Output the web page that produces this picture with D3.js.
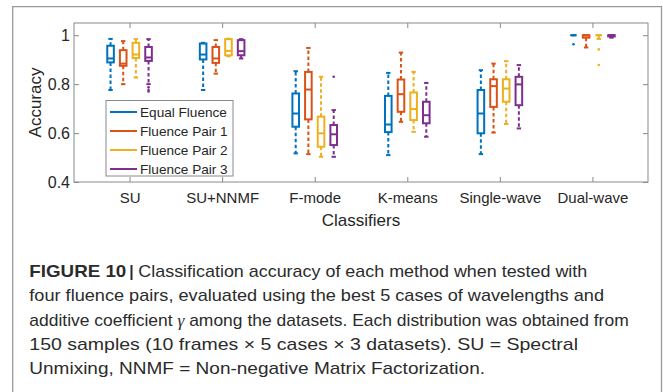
<!DOCTYPE html>
<html>
<head>
<meta charset="utf-8">
<script src="https://cdn.jsdelivr.net/npm/d3@7"></script>
<style>
  body { margin: 0; background: #fff; }
  svg { display: block; }
</style>
</head>
<body>
<div id="chart"></div>
<script>
// categories on the x axis and the four fluence groups
const classifiers = ['SU', 'SU+NNMF', 'F-mode', 'K-means', 'Single-wave', 'Dual-wave']
const series = ['Equal Fluence', 'Fluence Pair 1', 'Fluence Pair 2', 'Fluence Pair 3']
const colors = ['#0072BD', '#D95319', '#EDB120', '#7E2F8E']

// each row: [lower whisker, q1, median, q3, upper whisker], one row per classifier
const equalFluence = [
  [0.776, 0.889, 0.905, 0.957, 0.985],
  [0.776, 0.901, 0.921, 0.966, 0.969],
  [0.517, 0.626, 0.680, 0.762, 0.853],
  [0.510, 0.604, 0.635, 0.752, 0.846],
  [0.514, 0.599, 0.680, 0.776, 0.857],
  [1.000, 1.000, 1.000, 1.000, 1.000]
]
const fluencePair1 = [
  [0.800, 0.875, 0.884, 0.939, 0.976],
  [0.843, 0.887, 0.905, 0.952, 0.980],
  [0.514, 0.656, 0.778, 0.850, 0.948],
  [0.646, 0.687, 0.759, 0.819, 0.929],
  [0.602, 0.707, 0.792, 0.820, 0.884],
  [0.950, 0.990, 1.000, 1.000, 1.000]
]
const fluencePair2 = [
  [0.827, 0.907, 0.921, 0.969, 0.984],
  [0.914, 0.918, 0.936, 0.984, 0.986],
  [0.503, 0.544, 0.599, 0.667, 0.830],
  [0.605, 0.653, 0.698, 0.766, 0.850],
  [0.637, 0.728, 0.782, 0.820, 0.894],
  [0.985, 1.000, 1.000, 1.000, 1.000]
]
const fluencePair3 = [
  [0.800, 0.895, 0.909, 0.952, 0.984],
  [0.905, 0.918, 0.935, 0.980, 0.984],
  [0.503, 0.551, 0.595, 0.633, 0.694],
  [0.585, 0.640, 0.673, 0.728, 0.805],
  [0.619, 0.714, 0.799, 0.830, 0.878],
  [0.990, 0.995, 1.000, 1.000, 1.000]
]
// outliers: [classifier index, value]
const equalOutliers = [[5, 0.963]]
const pair1Outliers = []
const pair2Outliers = [[5, 0.942], [5, 0.878]]
const pair3Outliers = [[0, 0.787], [0, 0.776], [0, 0.770], [2, 0.830]]

const yTicks = [0.4, 0.6, 0.8, 1]

const captionLines = [
  'four fluence pairs, evaluated using the best 5 cases of wavelengths and',
  null, // line with the gamma symbol, built below
  '150 samples (10 frames \u00d7 5 cases \u00d7 3 datasets). SU = Spectral',
  'Unmixing, NNMF = Non-negative Matrix Factorization.'
]

const boxes = [equalFluence, fluencePair1, fluencePair2, fluencePair3]
const outliers = [equalOutliers, pair1Outliers, pair2Outliers, pair3Outliers]

////////////////////////////////////////////////////////////////////////
// layout
const width = 663
const height = 392
const plot = { left: 74, right: 648, top: 23, bottom: 182 }
const axisGray = '#8a8a8a'
const textColor = '#262626'
const font = "'Liberation Sans', Arial, sans-serif"

const svg = d3.select('#chart')
  .append('svg')
  .attr('width', width)
  .attr('height', height)

// figure frame (open at the bottom)
svg.append('path')
  .attr('d', `M12.7,400 V6.7 H661.5 V400`)
  .attr('fill', 'none')
  .attr('stroke', '#9a9a9a')
  .attr('stroke-width', 1.3)

let xScale = d3.scaleLinear().domain([0.4, 6.6]).range([plot.left, plot.right])
let yScale = d3.scaleLinear().domain([0.4, 1.05]).range([plot.bottom, plot.top])
let offset = d3.scalePoint().domain(series).range([-19, 19])

// axes with inward ticks on all four sides
function styleAxis (g) {
  g.select('.domain').remove()
  g.selectAll('.tick line').attr('stroke', axisGray).attr('stroke-width', 1)
  g.selectAll('.tick text').attr('fill', textColor)
  g.attr('font-family', font)
}

svg.append('g')
  .attr('transform', `translate(0,${plot.bottom})`)
  .call(d3.axisBottom(xScale).tickValues([1, 2, 3, 4, 5, 6])
    .tickSize(-5).tickPadding(10.5)
    .tickFormat(d => classifiers[d - 1]))
  .attr('font-size', 15)
  .call(styleAxis)

svg.append('g')
  .attr('transform', `translate(0,${plot.top})`)
  .call(d3.axisTop(xScale).tickValues([1, 2, 3, 4, 5, 6]).tickSize(-5).tickFormat(''))
  .call(styleAxis)

svg.append('g')
  .attr('transform', `translate(${plot.left},0)`)
  .call(d3.axisLeft(yScale).tickValues(yTicks).tickSize(-5).tickPadding(4)
    .tickFormat(d => d === 1 ? '1' : d.toFixed(1)))
  .attr('font-size', 16)
  .call(styleAxis)

svg.append('g')
  .attr('transform', `translate(${plot.right},0)`)
  .call(d3.axisRight(yScale).tickValues(yTicks).tickSize(-5).tickFormat(''))
  .call(styleAxis)

svg.append('rect')
  .attr('x', plot.left)
  .attr('y', plot.top)
  .attr('width', plot.right - plot.left)
  .attr('height', plot.bottom - plot.top)
  .attr('fill', 'none')
  .attr('stroke', axisGray)
  .attr('stroke-width', 1)

// axis titles
svg.append('text')
  .attr('x', (plot.left + plot.right) / 2)
  .attr('y', 225.5)
  .attr('text-anchor', 'middle')
  .attr('font-family', font)
  .attr('font-size', 17)
  .attr('fill', textColor)
  .text('Classifiers')

svg.append('text')
  .attr('transform', `translate(40.5,${(plot.top + plot.bottom) / 2}) rotate(-90)`)
  .attr('text-anchor', 'middle')
  .attr('font-family', font)
  .attr('font-size', 17)
  .attr('fill', textColor)
  .text('Accuracy')

////////////////////////////////////////////////////////////////////////
// box plots
const boxHalf = 3.3
const capHalf = 2.2

series.forEach((name, s) => {
  let g = svg.append('g').attr('class', 'series')
  let color = colors[s]
  let rows = boxes[s].map((d, i) => ({ i: i, d: d }))
  let cx = r => xScale(r.i + 1) + offset(name)

  // dashed whiskers
  g.selectAll('line.wlow')
    .data(rows)
    .enter()
    .append('line')
    .attr('x1', cx).attr('x2', cx)
    .attr('y1', r => yScale(r.d[1])).attr('y2', r => yScale(r.d[0]))
    .attr('stroke', color).attr('stroke-width', 2)
    .attr('stroke-dasharray', '3.5,2.5')
  g.selectAll('line.whigh')
    .data(rows)
    .enter()
    .append('line')
    .attr('x1', cx).attr('x2', cx)
    .attr('y1', r => yScale(r.d[3])).attr('y2', r => yScale(r.d[4]))
    .attr('stroke', color).attr('stroke-width', 2)
    .attr('stroke-dasharray', '3.5,2.5')

  // whisker caps
  ;[0, 4].forEach(k => {
    g.selectAll('line.cap' + k)
      .data(rows)
      .enter()
      .append('line')
      .attr('x1', r => cx(r) - capHalf).attr('x2', r => cx(r) + capHalf)
      .attr('y1', r => yScale(r.d[k])).attr('y2', r => yScale(r.d[k]))
      .attr('stroke', color).attr('stroke-width', 2)
  })

  // boxes
  g.selectAll('rect')
    .data(rows)
    .enter()
    .append('rect')
    .attr('x', r => cx(r) - boxHalf)
    .attr('y', r => yScale(r.d[3]))
    .attr('width', boxHalf * 2)
    .attr('height', r => yScale(r.d[1]) - yScale(r.d[3]))
    .attr('fill', 'none')
    .attr('stroke', color).attr('stroke-width', 2)

  // medians
  g.selectAll('line.median')
    .data(rows)
    .enter()
    .append('line')
    .attr('x1', r => cx(r) - boxHalf).attr('x2', r => cx(r) + boxHalf)
    .attr('y1', r => yScale(r.d[2])).attr('y2', r => yScale(r.d[2]))
    .attr('stroke', color).attr('stroke-width', 2)

  // outliers
  g.selectAll('circle')
    .data(outliers[s])
    .enter()
    .append('circle')
    .attr('cx', d => xScale(d[0] + 1) + offset(name))
    .attr('cy', d => yScale(d[1]))
    .attr('r', 1.3)
    .attr('fill', color)
})

////////////////////////////////////////////////////////////////////////
// legend
let legend = svg.append('g').attr('transform', 'translate(106,100.5)')
legend.append('rect')
  .attr('width', 127)
  .attr('height', 75.5)
  .attr('fill', '#fff')
  .attr('stroke', axisGray)
  .attr('stroke-width', 1)

let entries = legend.selectAll('g')
  .data(series)
  .enter()
  .append('g')
  .attr('transform', (d, i) => `translate(0,${11.5 + i * 19})`)
entries.append('line')
  .attr('x1', 4).attr('x2', 31)
  .attr('stroke', (d, i) => colors[i])
  .attr('stroke-width', 2)
entries.append('text')
  .attr('x', 34)
  .attr('y', 5)
  .attr('font-family', font)
  .attr('font-size', 13.6)
  .attr('fill', textColor)
  .text(d => d)

////////////////////////////////////////////////////////////////////////
// caption
const capColor = '#2b2b2b'
const capSize = 17
const baselines = [277, 301.3, 325.6, 349.9, 374.2]

svg.append('text')
  .attr('x', 29.3).attr('y', baselines[0])
  .attr('font-family', font).attr('font-size', capSize)
  .attr('font-weight', 'bold').attr('fill', capColor)
  .attr('textLength', 97).attr('lengthAdjust', 'spacingAndGlyphs')
  .text('FIGURE 10')
svg.append('rect')
  .attr('x', 130.5).attr('y', baselines[0] - 12)
  .attr('width', 2).attr('height', 15)
  .attr('fill', capColor)
svg.append('text')
  .attr('x', 138.3).attr('y', baselines[0])
  .attr('font-family', font).attr('font-size', capSize)
  .attr('fill', capColor)
  .attr('textLength', 449).attr('lengthAdjust', 'spacingAndGlyphs')
  .text('Classification accuracy of each method when tested with')

const lineEnds = [604, 628.7, 578, 485]
captionLines.forEach((t, i) => {
  let txt = svg.append('text')
    .attr('x', 29.3).attr('y', baselines[i + 1])
    .attr('font-family', font).attr('font-size', capSize)
    .attr('fill', capColor)
    .attr('textLength', lineEnds[i] - 29.3)
    .attr('lengthAdjust', 'spacingAndGlyphs')
  if (t === null) {
    txt.append('tspan').text('additive coefficient ')
    txt.append('tspan')
      .attr('font-family', "'Liberation Serif', 'Times New Roman', serif")
      .attr('font-style', 'italic')
      .text('\u03b3')
    txt.append('tspan').text(' among the datasets. Each distribution was obtained from')
  } else {
    txt.text(t)
  }
})
</script>
</body>
</html>
